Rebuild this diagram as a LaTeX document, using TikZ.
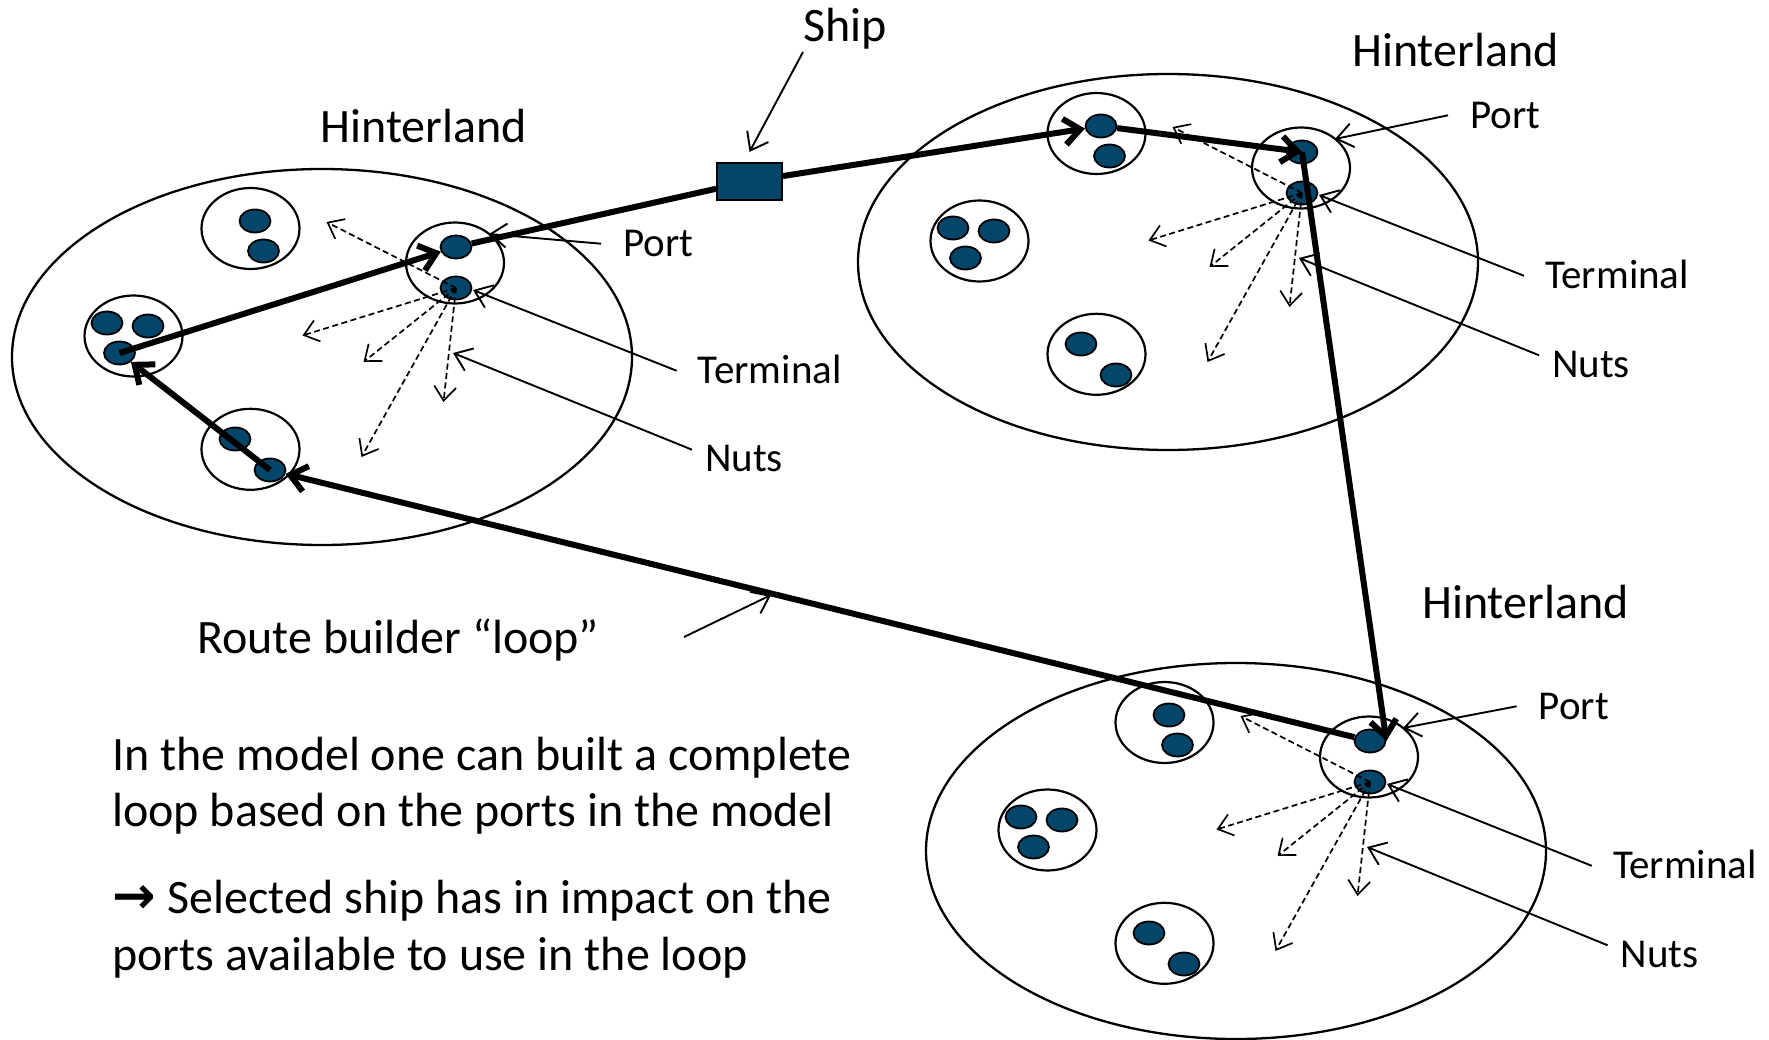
\documentclass[tikz,border=0pt]{standalone}
\usepackage{fontspec}
\setmainfont{Carlito}
\newfontfamily\arrowfont{DejaVu Sans}
\usetikzlibrary{arrows.meta,shapes.geometric}
\definecolor{dotblue}{RGB}{3,70,105}
\tikzset{
  big/.style={font=\fontsize{48}{56}\selectfont, inner sep=0pt, anchor=base west},
  lab/.style={font=\fontsize{41}{48}\selectfont, inner sep=0pt, anchor=base west},
  hline/.style={line width=2.3pt},
  cell/.style={draw, line width=2.2pt, ellipse, minimum width=98pt, minimum height=81pt, inner sep=0pt},
  dot/.style={draw, line width=1.8pt, fill=dotblue, ellipse, minimum width=31pt, minimum height=23pt, inner sep=0pt},
  route/.style={line width=6pt, -{Straight Barb[length=16pt,width=26pt]}},
  routeplain/.style={line width=6pt},
  ptr/.style={line width=1.9pt, -{Straight Barb[length=16pt,width=24pt]}},
  nut/.style={line width=1.7pt, dash pattern=on 6pt off 3.5pt, -{Straight Barb[length=14pt,width=22pt]}},
  hinter/.pic={
    \draw[hline] (0,0) ellipse [x radius=310, y radius=188];
    \node[cell] (-cA) at (-71.5,-128.5) {};
    \node[cell] (-cB) at (-188.5,-21) {};
    \node[cell] (-cC) at (-71.5,92.3) {};
    \node[cell] (-cD) at (133,-94) {};
    \node[dot] (-a1) at (-67,-136) {};
    \node[dot] (-a2) at (-58.5,-106) {};
    \node[dot] (-b1) at (-215,-34) {};
    \node[dot] (-b2) at (-174,-31) {};
    \node[dot] (-b3) at (-202.5,-4) {};
    \node[dot] (-c1) at (-87,82) {};
    \node[dot] (-c2) at (-52,113) {};
    \node[dot] (-port) at (134,-110) {};
    \node[dot] (-term) at (134,-69) {};
    \coordinate (-n1) at (4.5,-135);
    \coordinate (-n2) at (-19.5,-21.5);
    \coordinate (-n3) at (41.5,5);
    \coordinate (-n4) at (121.5,45);
    \coordinate (-n5) at (39.5,100);
    \coordinate (-ptip) at (167,-123);
    \coordinate (-ttip) at (151,-67);
    \coordinate (-ntip) at (131,-4);
    \foreach \i in {1,...,5} {\draw[nut] (-term.center) -- (-n\i);}
  }
}
\begin{document}
\begin{tikzpicture}[x=1pt, y=-1pt]
\useasboundingbox (0,0) rectangle (1769,1040);
\fill[white] (0,0) rectangle (1769,1040);

% hinterlands
\pic (L) at (322,357) {hinter};
\pic (T) at (1168,262) {hinter};
\pic (B) at (1236,851) {hinter};

% ship
\node[draw, line width=1.8pt, fill=dotblue, minimum width=65pt, minimum height=37pt, inner sep=0pt] (ship) at (749.5,181.3) {};

% route loop
\draw[route] (L-c2.center) -- (L-b3);
\draw[route] (L-b3.center) -- (L-port);
\draw[routeplain] (L-port) -- (ship);
\draw[route] (ship) -- (T-a1);
\draw[route] (T-a1) -- (T-port.center);
\draw[route] (T-port.center) -- (B-port.east);
\draw[route] (B-port) -- (L-c2);

% texts
\node[big] (shiplab) at (803,42) {Ship};
\node[big] (hL) at (320.4,143) {Hinterland};
\node[big] (hT) at (1352,66.7) {Hinterland};
\node[big] (hB) at (1422,618) {Hinterland};

\node[lab] (Lport) at (623,256.7) {Port};
\node[lab] (Lterm) at (697.7,383.3) {Terminal};
\node[lab] (Lnuts) at (705,471.7) {Nuts};
\node[lab] (Tport) at (1470,128.3) {Port};
\node[lab] (Tterm) at (1545,288.3) {Terminal};
\node[lab] (Tnuts) at (1552,377.3) {Nuts};
\node[lab] (Bport) at (1538.6,719.3) {Port};
\node[lab] (Bterm) at (1612.8,878.3) {Terminal};
\node[lab] (Bnuts) at (1620.6,967.3) {Nuts};

\node[big] (routelab) at (197,653) {Route builder “loop”};
\node[big] (p1) at (112,770) {In the model one can built a complete};
\node[big] (p2) at (112,826.7) {loop based on the ports in the model};
\node[big] (p3) at (112,913) {{\arrowfont\bfseries\fontsize{52}{56}\selectfont →}\hspace{12pt}Selected ship has in impact on the};
\node[big] (p4) at (112,970) {ports available to use in the loop};

% pointers
\foreach \h in {L,T,B} {
  \draw[ptr] ([shift={(-22,-13)}]\h port.base west) -- (\h-ptip);
  \draw[ptr] ([shift={(-21,-12.5)}]\h term.base west) -- (\h-ttip);
  \draw[ptr] ([shift={(-13,-22)}]\h nuts.base west) -- (\h-ntip);
}
\draw[ptr] ([shift={(0,10)}]shiplab.base west) -- ([shift={(0,-10)}]ship.north);
\coordinate (rtail) at (684,637);
\coordinate (rtip) at (771,595);
\draw[ptr] (rtail) -- (rtip);
\end{tikzpicture}
\end{document}
